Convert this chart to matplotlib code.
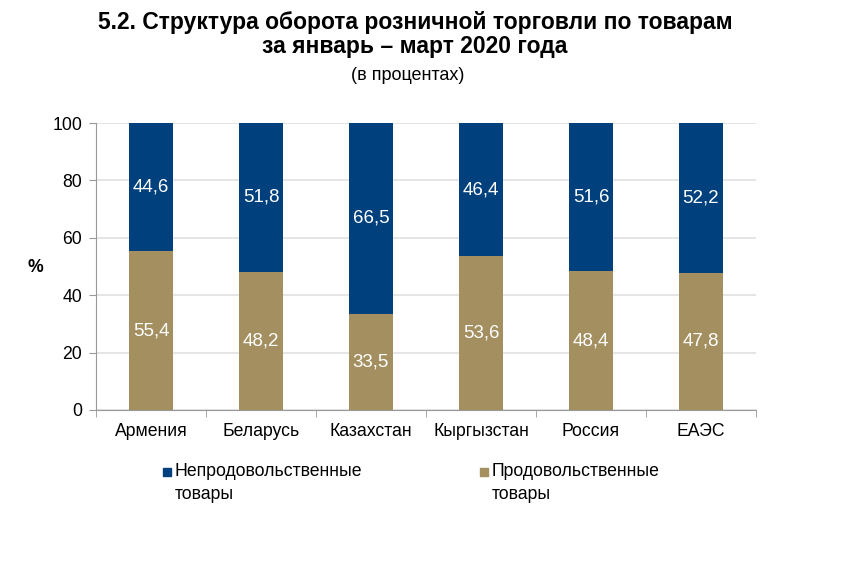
import matplotlib
matplotlib.use("Agg")
import matplotlib.pyplot as plt
from matplotlib.patches import Rectangle
import numpy as np

categories = ["Армения", "Беларусь", "Казахстан", "Кыргызстан", "Россия", "ЕАЭС"]
food = [55.4, 48.2, 33.5, 53.6, 48.4, 47.8]
nonfood = [44.6, 51.8, 66.5, 46.4, 51.6, 52.2]
series_names = ["Непродовольственные\nтовары", "Продовольственные\nтовары"]
yticks = [0, 20, 40, 60, 80, 100]

c_nonfood = "#00407D"
c_food = "#A38F5F"

plt.rcParams['font.family'] = ['Liberation Sans', 'DejaVu Sans']

fig = plt.figure(figsize=(8.43, 5.62), dpi=100)
ax = fig.add_axes([96/843, 1-410/562, 660/843, 287/562])

x = np.arange(len(categories))
w = 0.4
ax.bar(x, food, width=w, color=c_food, zorder=3)
ax.bar(x, nonfood, width=w, bottom=food, color=c_nonfood, zorder=3)

for xi, f, n in zip(x, food, nonfood):
    ax.text(xi, f/2, f"{f:.1f}".replace(".", ","), ha="center", va="center",
            color="white", fontsize=13.5, zorder=4)
    ax.text(xi, f + n/2, f"{n:.1f}".replace(".", ","), ha="center", va="center",
            color="white", fontsize=13.5, zorder=4)

ax.set_xlim(-0.5, len(categories)-0.5)
ax.set_ylim(0, 100)
ax.set_yticks(yticks)
ax.set_yticklabels([str(t) for t in yticks], fontsize=12.7)
ax.set_xticks(x)
ax.set_xticklabels(categories, fontsize=12.7)
ax.tick_params(axis="x", length=0, pad=9)
ax.tick_params(axis="y", length=5, color="#999999", pad=5, direction="out")
ax.set_xticks(np.arange(-0.5, len(categories)), minor=True)
ax.tick_params(axis="x", which="minor", length=5, color="#999999")
ax.grid(axis="y", color="#E0E0E0", linewidth=1.2, zorder=0)
for s in ["top", "right"]:
    ax.spines[s].set_visible(False)
for s in ["left", "bottom"]:
    ax.spines[s].set_color("#999999")

fig.text(35/843, 1-268/562, "%", fontsize=12.7, fontweight="bold", ha="center", va="center")

fig.text(415/843, 1-22/562, "5.2. Структура оборота розничной торговли по товарам",
         fontweight="bold", fontsize=16.5, ha="center", va="center")
fig.text(415/843, 1-47/562, "за январь – март 2020 года",
         fontweight="bold", fontsize=16.5, ha="center", va="center")
fig.text(408/843, 1-75/562, "(в процентах)",
         fontsize=13, ha="center", va="center")

# legend
for (lx, color, name) in [(163, c_nonfood, series_names[0]), (480, c_food, series_names[1])]:
    fig.patches.append(Rectangle((lx/843, 1-476/562), 8/843, 8/562, color=color,
                                 transform=fig.transFigure, figure=fig))
    fig.text((lx+12)/843, 1-463/562, name, fontsize=12.7, ha="left", va="top",
             linespacing=1.45)

fig.savefig("out.png", dpi=100)
